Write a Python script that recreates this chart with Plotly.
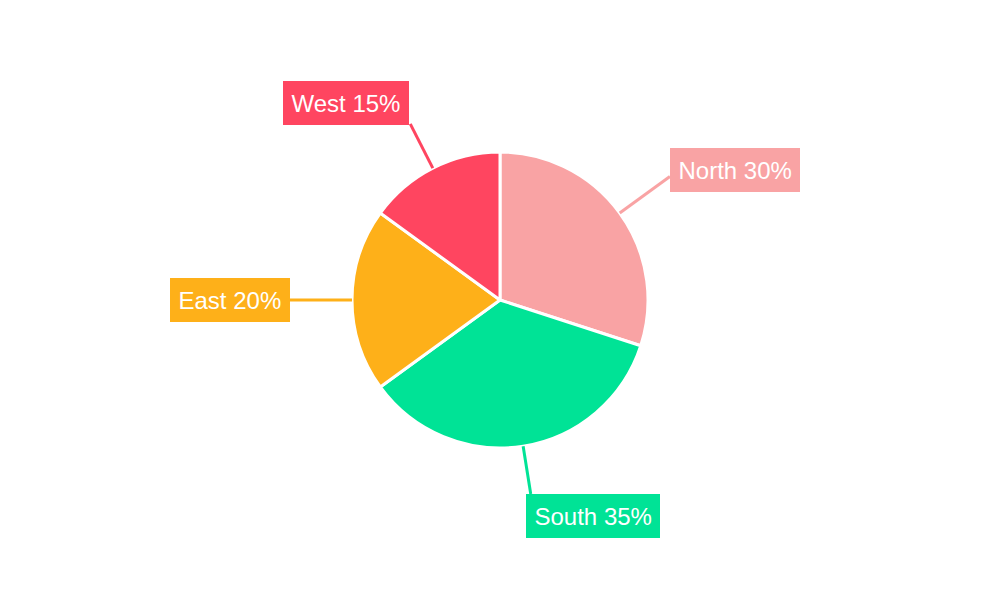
import math
import plotly.graph_objects as go

categories = ["North", "South", "East", "West"]
values = [30, 35, 20, 15]
colors = ["#F9A3A4", "#00E396", "#FEB019", "#FF4560"]

W, H = 1000, 600
# page body adds an 8px offset, so centre is given in figure coords
CX, CY, R = 492, 292, 148

# label placement: distance from centre (px), xanchor, yanchor, box shift dx, dy (screen px)
placement = {
    "North": (210, "left", "middle", 0, -7),
    "South": (196.5, "left", "top", -5, 0),
    "East": (210, "right", "middle", 0, 0),
    "West": (197.7, "right", "bottom", -1, 1),
}

fig = go.Figure(go.Pie(
    labels=categories, values=values, sort=False, direction="clockwise",
    rotation=0, textinfo="none", hoverinfo="label+percent",
    marker=dict(colors=colors, line=dict(color="white", width=3)),
    domain=dict(x=[(CX - R) / W, (CX + R) / W], y=[1 - (CY + R) / H, 1 - (CY - R) / H]),
    showlegend=False,
))

def px(x, y):
    return x / W, 1 - y / H

total = sum(values)
cum = 0
annotations, shapes = [], []
for cat, v, col in zip(categories, values, colors):
    mid = (cum + v / 2) / total * 360
    cum += v
    d, xa, ya, dx, dy = placement[cat]
    a = math.radians(mid)
    ax_, ay_ = CX + d * math.sin(a), CY - d * math.cos(a)
    ex, ey = CX + R * math.sin(a), CY - R * math.cos(a)
    x0, y0 = px(ax_, ay_)
    x1, y1 = px(ex, ey)
    shapes.append(dict(type="line", xref="paper", yref="paper", x0=x0, y0=y0, x1=x1, y1=y1,
                       line=dict(color=col, width=3), layer="above"))
    bx, by = px(ax_ + dx, ay_ + dy)
    pct = round(v / total * 100)
    annotations.append(dict(
        x=bx, y=by, xref="paper", yref="paper", xanchor=xa, yanchor=ya,
        text=f"{cat} {pct}%", showarrow=False, bgcolor=col, bordercolor=col,
        borderwidth=1, borderpad=7.5,
        font=dict(family="Liberation Sans, Arial, sans-serif", size=24, color="white"),
    ))

fig.update_layout(
    width=W, height=H, margin=dict(l=0, r=0, t=0, b=0),
    paper_bgcolor="white", plot_bgcolor="white",
    annotations=annotations, shapes=shapes,
)
fig.write_html("out.html")
